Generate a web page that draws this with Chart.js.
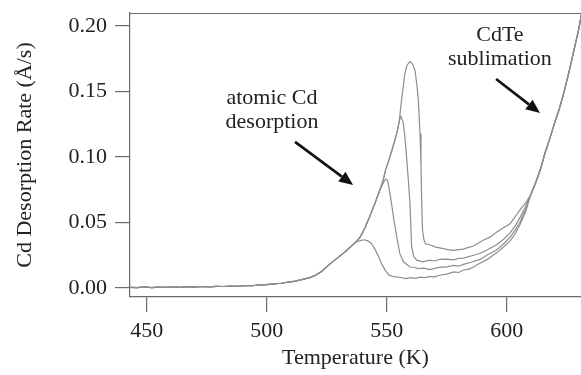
<!DOCTYPE html>
<html>
<head>
<meta charset="utf-8">
<script src="https://cdn.jsdelivr.net/npm/chart.js@4.4.0/dist/chart.umd.min.js"></script>
<style>
  html, body { margin: 0; padding: 0; background: #fff; }
  canvas { display: block; }
</style>
</head>
<body>
<canvas id="tpd" width="581" height="375"></canvas>
<script>
// Cd desorption rate vs temperature (four runs, different Cd coverage)

// shared low-temperature baseline / leading edge
const edgeK    = [443, 446, 449, 452, 455, 458, 461, 464, 467, 470, 473, 476, 479, 482, 485, 488, 491, 494, 497, 500, 503, 506, 509, 512, 515, 518, 520, 523, 526, 529, 532, 535, 537];
const edgeRate = [0.0005, 0.0002, 0.0008, 0.0003, 0.0007, 0.0004, 0.0009, 0.0005, 0.0010, 0.0007, 0.0011, 0.0008, 0.0012, 0.0011, 0.0015, 0.0013, 0.0018, 0.0017, 0.0023, 0.0025, 0.0031, 0.0036, 0.0045, 0.0052, 0.0066, 0.0079, 0.0094, 0.0128, 0.0178, 0.0222, 0.0266, 0.0315, 0.0348];

// CdTe sublimation tail, common to all runs
const tailK    = [610, 612, 614, 616, 618, 620, 622, 624, 626, 628, 630, 631.5];
const tailRate = [0.071, 0.080, 0.090, 0.103, 0.114, 0.126, 0.137, 0.150, 0.165, 0.181, 0.197, 0.212];

// run 1 (lowest coverage)
const run1K    = [539, 540.5, 542, 543.5, 545, 546.5, 548, 549.5, 551, 553, 556, 558, 560, 562, 564, 566, 568, 570, 572, 575, 578, 580, 582, 584, 586, 589, 592, 595.8, 598.5, 601.4, 603.5, 605.5, 608];
const run1Rate = [0.0362, 0.0368, 0.0361, 0.0342, 0.0300, 0.0245, 0.0180, 0.0132, 0.0098, 0.0086, 0.0080, 0.0072, 0.0079, 0.0074, 0.0083, 0.0079, 0.0088, 0.0085, 0.0097, 0.0106, 0.0122, 0.0118, 0.0137, 0.0142, 0.0158, 0.0190, 0.0218, 0.0268, 0.0309, 0.0357, 0.0412, 0.0480, 0.0585];

// run 2
const run2K    = [539, 541, 543, 545, 547, 548.5, 549.5, 550.3, 551, 552, 553, 554.2, 555.5, 557, 559.7, 561.5, 563, 565.5, 568, 570, 572, 575, 578, 580, 582, 585.5, 589, 592, 595.8, 598.5, 601.4, 603.5, 605.5, 608];
const run2Rate = [0.039, 0.046, 0.055, 0.064, 0.074, 0.080, 0.083, 0.0825, 0.076, 0.0647, 0.052, 0.039, 0.026, 0.020, 0.016, 0.0158, 0.0148, 0.0152, 0.0140, 0.0149, 0.0157, 0.0161, 0.0172, 0.0166, 0.0180, 0.0198, 0.0218, 0.0253, 0.0290, 0.0332, 0.0386, 0.0440, 0.0500, 0.0605];

// run 3
const run3K    = [539, 541, 543, 545, 547, 548.5, 549.5, 551, 552.5, 554.2, 555.2, 555.9, 556.8, 557.6, 558.6, 559.2, 559.7, 560.4, 561.3, 562.5, 565, 568, 570, 572, 575, 578, 580, 582, 585.5, 589, 592, 595.8, 598.5, 601.4, 603.5, 605.5, 608];
const run3Rate = [0.039, 0.046, 0.055, 0.064, 0.074, 0.082, 0.090, 0.098, 0.107, 0.118, 0.127, 0.131, 0.127, 0.1155, 0.0926, 0.078, 0.0647, 0.0315, 0.024, 0.0212, 0.0200, 0.0212, 0.0206, 0.0218, 0.0220, 0.0214, 0.0226, 0.0228, 0.0246, 0.0265, 0.0292, 0.0330, 0.0368, 0.0420, 0.0472, 0.0535, 0.0625];

// run 4 (highest coverage)
const run4K    = [539, 541, 543, 545, 547, 548.5, 549.5, 551, 552.5, 554.2, 555.2, 556.2, 557, 557.6, 558.5, 559.7, 560.8, 561.8, 562.6, 563.2, 563.9, 564.3, 564.6, 564.9, 565.5, 566.3, 568, 570.5, 573.6, 575.5, 577.8, 580, 582, 584, 586, 590, 593, 595.8, 598.5, 601.4, 603.5, 605.5, 608];
const run4Rate = [0.039, 0.046, 0.055, 0.064, 0.074, 0.082, 0.090, 0.098, 0.107, 0.118, 0.127, 0.1435, 0.155, 0.164, 0.170, 0.173, 0.171, 0.166, 0.155, 0.1435, 0.118, 0.0926, 0.065, 0.045, 0.037, 0.0335, 0.0330, 0.0312, 0.0300, 0.0293, 0.0287, 0.0292, 0.0297, 0.0310, 0.0318, 0.0362, 0.0388, 0.0425, 0.0458, 0.0490, 0.0542, 0.0595, 0.0652];

// axis ticks
const xTicks = [450, 500, 550, 600];
const yTicks = [0, 0.05, 0.10, 0.15, 0.20];

const lineColor = '#8e8e8e';
const axisColor = '#6a6a6a';
const textColor = '#222';
const serif = "'Liberation Serif', 'DejaVu Serif', serif";

function buildRun(k, r) {
    const xs = edgeK.concat(k, tailK);
    const ys = edgeRate.concat(r, tailRate);
    return xs.map((x, i) => ({ x: x, y: ys[i] }));
}

const runs = [
    buildRun(run1K, run1Rate),
    buildRun(run2K, run2Rate),
    buildRun(run3K, run3Rate),
    buildRun(run4K, run4Rate)
];

// annotation anchors in data units (K, rate)
const notes = [
    { lines: ['atomic Cd', 'desorption'], at: [502.2, 0.145], lineGap: 0.0183, from: [511.8, 0.1115], to: [536, 0.0786] },
    { lines: ['CdTe', 'sublimation'], at: [597.2, 0.193], lineGap: 0.0183, from: [595.6, 0.1595], to: [613.9, 0.1336] }
];

const framePlugin = {
    id: 'frame',
    beforeDatasetsDraw(chart) {
        const { ctx, chartArea } = chart;
        ctx.save();
        ctx.strokeStyle = axisColor;
        ctx.lineWidth = 1.2;
        ctx.beginPath();
        ctx.moveTo(chartArea.left, chartArea.top + 0.5);
        ctx.lineTo(chartArea.right, chartArea.top + 0.5);
        ctx.stroke();
        ctx.restore();
    }
};

const notePlugin = {
    id: 'notes',
    afterDraw(chart) {
        const { ctx, scales } = chart;
        const px = v => scales.x.getPixelForValue(v);
        const py = v => scales.y.getPixelForValue(v);
        ctx.save();
        ctx.font = '22px ' + serif;
        ctx.textAlign = 'center';
        ctx.textBaseline = 'middle';
        notes.forEach(n => {
            ctx.fillStyle = textColor;
            n.lines.forEach((t, i) => {
                ctx.fillText(t, px(n.at[0]), py(n.at[1] - i * n.lineGap));
            });
            const x0 = px(n.from[0]), y0 = py(n.from[1]);
            const x1 = px(n.to[0]), y1 = py(n.to[1]);
            const ang = Math.atan2(y1 - y0, x1 - x0);
            const head = 14, half = 6;
            const bx = x1 - head * Math.cos(ang), by = y1 - head * Math.sin(ang);
            ctx.strokeStyle = '#111';
            ctx.lineWidth = 2.6;
            ctx.beginPath();
            ctx.moveTo(x0, y0);
            ctx.lineTo(bx, by);
            ctx.stroke();
            ctx.fillStyle = '#111';
            ctx.beginPath();
            ctx.moveTo(x1, y1);
            ctx.lineTo(bx + half * Math.sin(ang), by - half * Math.cos(ang));
            ctx.lineTo(bx - half * Math.sin(ang), by + half * Math.cos(ang));
            ctx.closePath();
            ctx.fill();
        });
        ctx.restore();
    }
};

new Chart(document.getElementById('tpd'), {
    type: 'scatter',
    data: {
        datasets: runs.map(pts => ({
            data: pts,
            showLine: true,
            borderColor: lineColor,
            borderWidth: 1.2,
            pointRadius: 0,
            tension: 0,
            clip: true
        }))
    },
    options: {
        responsive: false,
        animation: false,
        events: [],
        layout: { padding: { top: 13, right: 0, bottom: 0, left: 0 } },
        plugins: {
            legend: { display: false },
            tooltip: { enabled: false }
        },
        scales: {
            x: {
                type: 'linear',
                min: 443,
                max: 631,
                afterBuildTicks: s => { s.ticks = xTicks.map(v => ({ value: v })); },
                afterFit: s => { s.height = 78; s.paddingLeft = 0; s.paddingRight = 0; },
                border: { display: true, color: axisColor, width: 1.2 },
                grid: { drawOnChartArea: false, drawTicks: true, tickLength: 15, color: axisColor, tickColor: axisColor, lineWidth: 1.2 },
                ticks: { color: textColor, padding: 6, maxRotation: 0, font: { family: serif, size: 22 } },
                title: { display: true, text: 'Temperature (K)', color: textColor, padding: { top: 0, bottom: 4 }, font: { family: serif, size: 22 } }
            },
            y: {
                type: 'linear',
                min: -0.0069,
                max: 0.2099,
                afterBuildTicks: s => { s.ticks = yTicks.map(v => ({ value: v })); },
                afterFit: s => { s.width = 130; s.paddingTop = 0; s.paddingBottom = 0; },
                border: { display: true, color: axisColor, width: 1.2 },
                grid: { drawOnChartArea: false, drawTicks: true, tickLength: 15, color: axisColor, tickColor: axisColor, lineWidth: 1.2 },
                ticks: { color: textColor, padding: 8, font: { family: serif, size: 22 }, callback: v => v.toFixed(2) },
                title: { display: true, text: 'Cd Desorption Rate (Å/s)', color: textColor, padding: { top: 12, bottom: 0 }, font: { family: serif, size: 22 } }
            }
        }
    },
    plugins: [framePlugin, notePlugin]
});
</script>
</body>
</html>
